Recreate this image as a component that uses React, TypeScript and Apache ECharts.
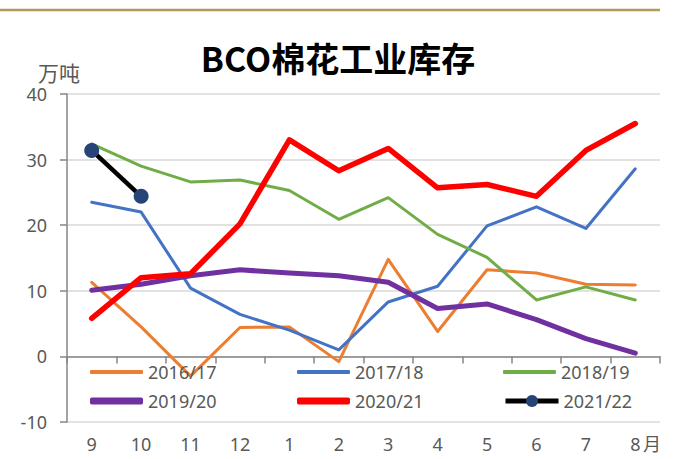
import React, { useEffect, useRef } from "react";
import * as echarts from "echarts";

const months = ["9", "10", "11", "12", "1", "2", "3", "4", "5", "6", "7", "8"];
const s1617 = [11.3, 4.5, -3.0, 4.4, 4.5, -0.8, 14.8, 3.8, 13.2, 12.7, 11.0, 10.9];
const s1718 = [23.5, 22.0, 10.4, 6.4, 4.0, 1.0, 8.3, 10.7, 19.9, 22.8, 19.5, 28.6];
const s1819 = [32.4, 29.0, 26.6, 26.9, 25.3, 20.9, 24.2, 18.6, 15.1, 8.6, 10.6, 8.6];
const s1920 = [10.1, 11.0, 12.3, 13.2, 12.7, 12.3, 11.3, 7.3, 8.0, 5.6, 2.7, 0.5];
const s2021 = [5.8, 12.0, 12.6, 20.2, 33.0, 28.3, 31.7, 25.7, 26.2, 24.4, 31.4, 35.5];
const s2122 = [31.4, 24.4];
const yTicks = { min: -10, max: 40, interval: 10 };

const TXT = "#595959";
const FONT = "'Noto Sans', 'Noto Sans CJK SC', sans-serif";

export default function App() {
  const ref = useRef<HTMLDivElement>(null);
  useEffect(() => {
    if (!ref.current) return;
    const chart = echarts.init(ref.current, null, { renderer: "svg" });
    const mk = (name: string, data: number[], color: string, width: number) => ({
      name,
      type: "line",
      data,
      symbol: "none",
      lineStyle: { color, width, cap: "round", join: "round" },
      itemStyle: { color },
      z: 2,
    });
    const legendPos: [string, number, number, number][] = [
      ["2016/17", 90, 372, 4],
      ["2017/18", 297, 372, 4],
      ["2018/19", 503, 372, 4],
      ["2019/20", 90, 401, 7],
      ["2020/21", 297, 401, 7],
    ];
    const legends: any[] = legendPos.map(([n, l, c, h]) => ({
      data: [{ name: n, icon: "roundRect" }],
      left: l,
      top: c - 11,
      itemWidth: 53,
      itemHeight: h,
      itemGap: 5,
      padding: 0,
      textStyle: { color: TXT, fontSize: 18, fontFamily: FONT, lineHeight: 22 },
    }));
    legends.push({
      data: ["2021/22"],
      left: 503,
      top: 401 - 11,
      itemWidth: 53,
      itemHeight: 15,
      itemGap: 5,
      padding: 0,
      lineStyle: { width: 5 },
      textStyle: { color: TXT, fontSize: 18, fontFamily: FONT, lineHeight: 22 },
    });
    chart.setOption({
      animation: false,
      textStyle: { fontFamily: FONT },
      grid: { left: 67, right: 13, top: 94, bottom: 37 },
      legend: legends,
      xAxis: [
        {
          type: "category",
          data: months,
          boundaryGap: true,
          axisLine: { onZero: true, lineStyle: { color: "#868686", width: 1.5 } },
          axisTick: { show: true, length: 7, lineStyle: { color: "#868686", width: 1.5 } },
          axisLabel: { show: false },
        },
        {
          type: "category",
          data: months,
          boundaryGap: true,
          position: "bottom",
          axisLine: { show: false, onZero: false },
          axisTick: { show: false },
          axisLabel: { color: TXT, fontSize: 18, margin: 13, fontFamily: FONT },
        },
      ],
      yAxis: {
        type: "value",
        min: yTicks.min,
        max: yTicks.max,
        interval: yTicks.interval,
        axisLine: { show: true, lineStyle: { color: "#868686", width: 1.5 } },
        axisTick: { show: true, length: 7, lineStyle: { color: "#868686", width: 1.5 } },
        axisLabel: { color: TXT, fontSize: 18, margin: 20, fontFamily: FONT },
        splitLine: { lineStyle: { color: "#d9d9d9", width: 1.5 } },
      },
      series: [
        mk("2016/17", s1617, "#ED7D31", 3),
        mk("2017/18", s1718, "#4472C4", 3),
        mk("2018/19", s1819, "#70AD47", 3),
        mk("2019/20", s1920, "#7030A0", 5),
        mk("2020/21", s2021, "#FF0000", 5.5),
        {
          name: "2021/22",
          type: "line",
          data: s2122,
          symbol: "circle",
          symbolSize: 15,
          lineStyle: { color: "#000000", width: 4.5 },
          itemStyle: { color: "#264478" },
          z: 3,
        },
      ],
      graphic: [
        { type: "line", shape: { x1: 0, y1: 10, x2: 660, y2: 10 }, style: { stroke: "#B4975A", lineWidth: 2.5 } },
        {
          type: "text",
          x: 338,
          y: 57,
          style: {
            text: "BCO棉花工业库存",
            fill: "#000",
            font: "bold 34px 'Noto Sans CJK SC', sans-serif",
            textAlign: "center",
            textVerticalAlign: "middle",
          },
        },
        {
          type: "text",
          x: 38,
          y: 72,
          style: {
            text: "万吨",
            fill: TXT,
            font: "21px 'Noto Sans CJK SC', sans-serif",
            textAlign: "left",
            textVerticalAlign: "middle",
          },
        },
        {
          type: "text",
          x: 643,
          y: 443,
          style: {
            text: "月",
            fill: TXT,
            font: "18px 'Noto Sans CJK SC', sans-serif",
            textAlign: "left",
            textVerticalAlign: "middle",
          },
        },
      ],
    });
    return () => chart.dispose();
  }, []);
  return <div ref={ref} style={{ width: 673, height: 459, position: "absolute", left: 0, top: 0 }} />;
}
